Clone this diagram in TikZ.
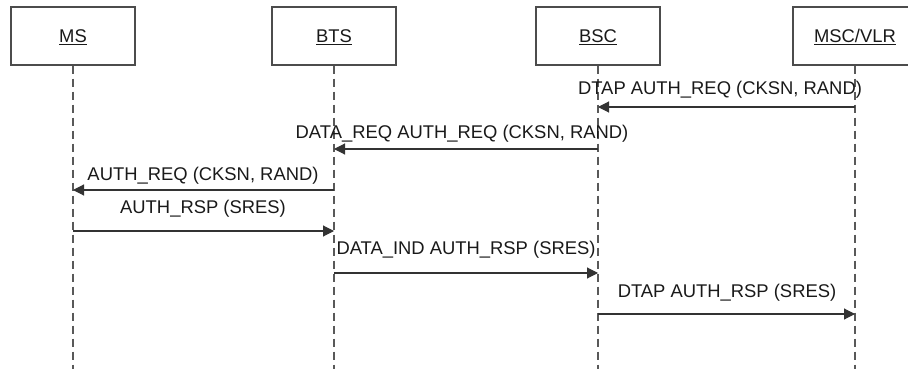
\documentclass[tikz,border=0pt]{standalone}
\usepackage{fontspec}
\setmainfont{Liberation Sans}
\usetikzlibrary{arrows.meta}
\begin{document}
\begin{tikzpicture}[x=1pt,y=-1pt,
  entity/.style={draw=black!70, line width=1.1pt, minimum width=124pt,
    minimum height=58pt, inner sep=0pt, text height=13.2pt, text depth=0pt,
    font=\fontsize{18.4}{22}\selectfont, text=black!90},
  lifeline/.style={draw=black!65, line width=1.2pt, dash pattern=on 8pt off 5pt},
  msg/.style={draw=black!80, line width=1.1pt, -{Triangle[length=11pt,width=11pt]}},
  lbl/.style={anchor=base, inner sep=0pt, font=\fontsize{18.4}{22}\selectfont, text=black!90}]
\useasboundingbox (0,0) rectangle (908,369);

% participants
\node[entity] (ms)  at (73,36)  {\underline{MS}};
\node[entity] (bts) at (334,36) {\underline{BTS}};
\node[entity] (bsc) at (598,36) {\underline{BSC}};
\node[entity] (vlr) at (855,36) {\underline{MSC/VLR}};

% lifeline ends
\coordinate (msend)  at (73,369);
\coordinate (btsend) at (334,369);
\coordinate (bscend) at (598,369);
\coordinate (vlrend) at (855,369);

\draw[lifeline] (ms.south)  -- (msend);
\draw[lifeline] (bts.south) -- (btsend);
\draw[lifeline] (bsc.south) -- (bscend);
\draw[lifeline] (vlr.south) -- (vlrend);

% messages
\draw[msg] (vlr |- 0,107) -- (bsc |- 0,107);
\node[lbl] (m1) at (720,95) {DTAP AUTH\_REQ (CKSN, RAND)};

\draw[msg] (bsc |- 0,149) -- (bts |- 0,149);
\node[lbl] (m2) at (462,138) {DATA\_REQ AUTH\_REQ (CKSN, RAND)};

\draw[msg] (bts |- 0,190) -- (ms |- 0,190);
\node[lbl] (m3) at (203,180) {AUTH\_REQ (CKSN, RAND)};

\draw[msg] (ms |- 0,231) -- (bts |- 0,231);
\node[lbl] (m4) at (203,213) {AUTH\_RSP (SRES)};

\draw[msg] (bts |- 0,273) -- (bsc |- 0,273);
\node[lbl] (m5) at (466,254) {DATA\_IND AUTH\_RSP (SRES)};

\draw[msg] (bsc |- 0,314) -- (vlr |- 0,314);
\node[lbl] (m6) at (727,297) {DTAP AUTH\_RSP (SRES)};
\end{tikzpicture}
\end{document}
